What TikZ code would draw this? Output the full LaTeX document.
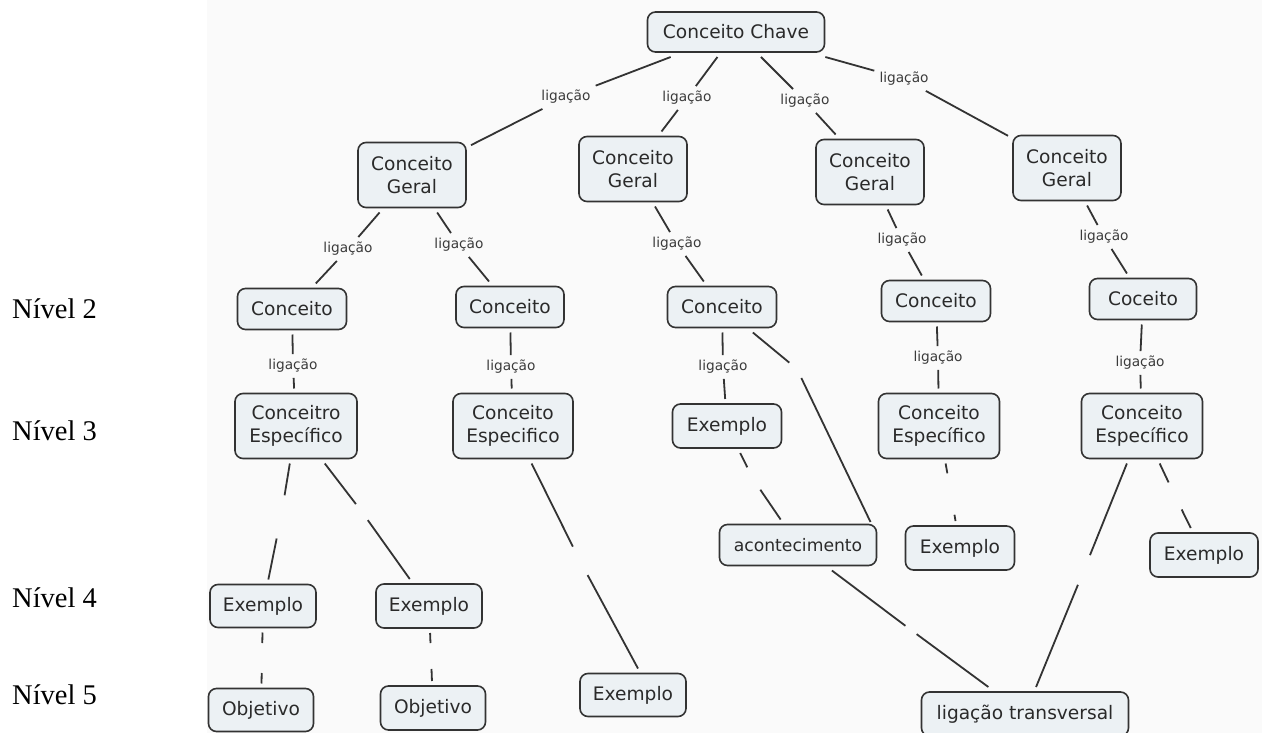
\documentclass[tikz,border=0pt]{standalone}
\usepackage{fontspec}
\usetikzlibrary{calc}
\setmainfont{DejaVu Sans}
\newfontfamily\levelfont{Liberation Serif}
\definecolor{boxfill}{HTML}{ECF1F4}
\definecolor{edgecol}{HTML}{333333}
\definecolor{txtcol}{HTML}{2A2A2A}
\definecolor{lblcol}{HTML}{3A3A3A}
\definecolor{panel}{HTML}{FAFAFA}
\tikzset{
  box/.style={draw=edgecol, line width=1.6pt, fill=boxfill, rounded corners=8pt,
    text=txtcol, font=\fontsize{18.6}{23}\selectfont, align=center,
    inner sep=0pt, outer sep=5pt, minimum height=41pt},
  twoline/.style={box, minimum height=65pt},
  lbl/.style={font=\fontsize{13.7}{16}\selectfont, text=lblcol, inner sep=5pt},
  conn/.style={draw=edgecol, line width=1.8pt},
  lvl/.style={font=\levelfont\fontsize{28.5}{30}\selectfont, anchor=west, inner sep=0pt}
}
\begin{document}
\begin{tikzpicture}[x=1pt, y=-1pt]
\useasboundingbox (0,0) rectangle (1262,733);
\fill[panel] (207,0) rectangle (1262,733);

% level captions
\node[lvl] (n2) at (12,309) {Nível 2};
\node[lvl] (n3) at (12,431) {Nível 3};
\node[lvl] (n4) at (12,598) {Nível 4};
\node[lvl] (n5) at (12,695) {Nível 5};

% concepts
\node[box, minimum width=177pt, minimum height=40pt] (chave) at (736,32) {Conceito Chave};
\node[twoline, minimum width=108pt] (g1) at (412,175) {Conceito\\Geral};
\node[twoline, minimum width=108pt] (g2) at (633,169) {Conceito\\Geral};
\node[twoline, minimum width=108pt] (g3) at (870,172) {Conceito\\Geral};
\node[twoline, minimum width=108pt] (g4) at (1067,168) {Conceito\\Geral};

\node[box, minimum width=109pt] (c1) at (292,309) {Conceito};
\node[box, minimum width=108pt] (c2) at (510,307) {Conceito};
\node[box, minimum width=109pt] (c3) at (722,307) {Conceito};
\node[box, minimum width=109pt] (c4) at (936,301) {Conceito};
\node[box, minimum width=107pt] (c5) at (1143,299) {Coceito};

\node[twoline, minimum width=122pt] (ce1) at (296,426) {Conceitro\\Específico};
\node[twoline, minimum width=120pt] (ce2) at (513,426) {Conceito\\Especifico};
\node[box, minimum width=109pt, minimum height=44pt] (ex3) at (727,426) {Exemplo};
\node[twoline, minimum width=121pt] (ce3) at (939,426) {Conceito\\Específico};
\node[twoline, minimum width=121pt] (ce4) at (1142,426) {Conceito\\Específico};

\node[box, minimum width=157pt, font=\fontsize{17.2}{20}\selectfont] (acont) at (798,545) {acontecimento};
\node[box, minimum width=109pt, minimum height=44pt] (ex4) at (960,548) {Exemplo};
\node[box, minimum width=108pt, minimum height=44pt] (ex5) at (1204,555) {Exemplo};

\node[box, minimum width=106pt, minimum height=43pt] (ex1) at (263,606) {Exemplo};
\node[box, minimum width=106pt, minimum height=44pt] (ex2) at (429,606) {Exemplo};

\node[box, minimum width=105pt, minimum height=43pt] (ob1) at (261,710) {Objetivo};
\node[box, minimum width=105pt, minimum height=44pt] (ob2) at (433,708) {Objetivo};
\node[box, minimum width=106pt, minimum height=43pt] (ex6) at (633,695) {Exemplo};
\node[box, minimum width=207pt, minimum height=44pt] (lt) at (1025,714) {ligação transversal};

% linking phrases
\node[lbl] (l1) at (566,97) {ligação};
\node[lbl] (l2) at (687,98) {ligação};
\node[lbl] (l3) at (805,101) {ligação};
\node[lbl] (l4) at (904,79) {ligação};
\node[lbl] (l5) at (348,249) {ligação};
\node[lbl] (l6) at (459,245) {ligação};
\node[lbl] (l7) at (677,244) {ligação};
\node[lbl] (l8) at (902,240) {ligação};
\node[lbl] (l9) at (1104,237) {ligação};
\node[lbl] (l10) at (293,366) {ligação};
\node[lbl] (l11) at (511,367) {ligação};
\node[lbl] (l12) at (723,367) {ligação};
\node[lbl] (l13) at (938,358) {ligação};
\node[lbl] (l14) at (1140,363) {ligação};

\draw[conn] (chave) -- (l1) -- (g1);
\draw[conn] (chave) -- (l2) -- (g2);
\draw[conn] (chave) -- (l3) -- (g3);
\draw[conn] (chave) -- (l4) -- (g4);
\draw[conn] (g1) -- (l5) -- (c1);
\draw[conn] (g1) -- (l6) -- (c2);
\draw[conn] (g2) -- (l7) -- (c3);
\draw[conn] (g3) -- (l8) -- (c4);
\draw[conn] (g4) -- (l9) -- (c5);
\draw[conn] (c1) -- (l10) -- (ce1);
\draw[conn] (c2) -- (l11) -- (ce2);
\draw[conn] (c3) -- (l12) -- (ex3);
\draw[conn] (c4) -- (l13) -- (ce3);
\draw[conn] (c5) -- (l14) -- (ce4);

% links whose phrase is left blank
\coordinate (m1) at (281,517);
\coordinate (m2) at (362,512);
\coordinate (m3) at (580,561);
\coordinate (m4) at (262,658);
\coordinate (m5) at (431,656);
\coordinate (m6) at (753,479);
\coordinate (m7) at (797,369);
\coordinate (m8) at (951,494);
\coordinate (m9) at (1175,496);
\coordinate (m10) at (911,630);
\coordinate (m11) at (1084,570);
\coordinate (e6top) at ($(ex6.north)+(5,0)$);
\coordinate (acne) at ($(acont.north east)+(-11,2.5)$);

\draw[conn, shorten >=22pt] (ce1) -- (m1);  \draw[conn, shorten <=22pt] (m1) -- (ex1);
\draw[conn, shorten >=10pt] (ce1) -- (m2);  \draw[conn, shorten <=10pt] (m2) -- (ex2);
\draw[conn, shorten >=16pt] (ce2) -- (m3);  \draw[conn, shorten <=16pt] (m3) -- (e6top);
\draw[conn, shorten >=15pt] (ex1) -- (m4);  \draw[conn, shorten <=15pt] (m4) -- (ob1);
\draw[conn, shorten >=13pt] (ex2) -- (m5);  \draw[conn, shorten <=13pt] (m5) -- (ob2);
\draw[conn, shorten >=13pt] (ex3) -- (m6);  \draw[conn, shorten <=13pt] (m6) -- (acont);
\draw[conn, shorten >=10pt] (c3) -- (m7);   \draw[conn, shorten <=10pt] (m7) -- (acne);
\draw[conn, shorten >=21pt] (ce3) -- (m8);  \draw[conn, shorten <=21pt] (m8) -- (ex4);
\draw[conn, shorten >=15pt] (ce4) -- (m9);  \draw[conn, shorten <=15pt] (m9) -- (ex5);
\draw[conn, shorten >=7pt] (acont) -- (m10); \draw[conn, shorten <=7pt] (m10) -- (lt);
\draw[conn, shorten >=16pt] (ce4) -- (m11); \draw[conn, shorten <=16pt] (m11) -- (lt);
\end{tikzpicture}
\end{document}
